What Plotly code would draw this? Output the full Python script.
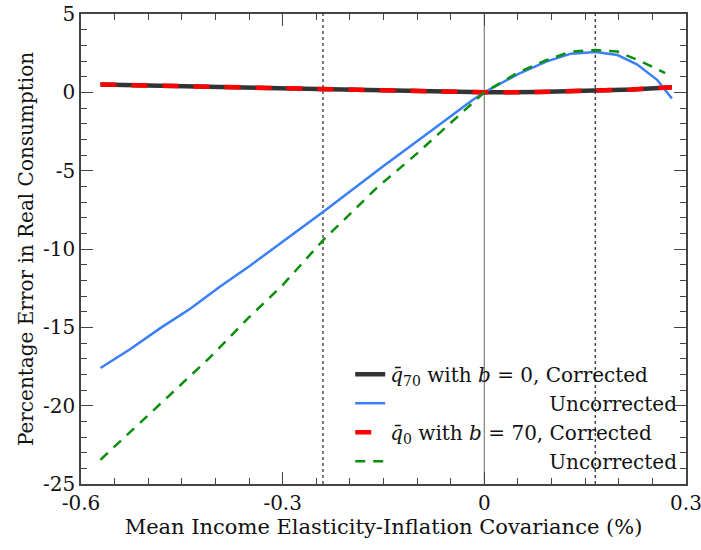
import plotly.graph_objects as go

# ---- data ----
x_corr = [-0.571, -0.48, -0.40, -0.30, -0.24, -0.15, -0.08, 0.0, 0.08, 0.165, 0.22, 0.279]
y_corr70 = [0.50, 0.42, 0.35, 0.25, 0.19, 0.10, 0.03, 0.0, 0.02, 0.10, 0.18, 0.32]
y_corr0 = [0.50, 0.42, 0.35, 0.25, 0.19, 0.10, 0.03, 0.0, 0.02, 0.10, 0.18, 0.33]

x_unc70 = [-0.571, -0.527, -0.482, -0.437, -0.393, -0.348, -0.239, -0.150, -0.085, -0.018, 0.0,
           0.05, 0.092, 0.129, 0.166, 0.198, 0.227, 0.257, 0.279]
y_unc70 = [-17.6, -16.4, -15.05, -13.8, -12.4, -11.05, -7.6, -4.7, -2.65, -0.5, 0.0,
           1.16, 1.96, 2.47, 2.58, 2.38, 1.79, 0.8, -0.4]

x_unc0 = [-0.571, -0.532, -0.470, -0.410, -0.351, -0.300, -0.239, -0.160, -0.100, -0.040, 0.0,
          0.05, 0.092, 0.129, 0.166, 0.198, 0.232, 0.269]
y_unc0 = [-23.45, -21.9, -19.4, -17.0, -14.4, -12.3, -9.4, -6.1, -3.9, -1.56, 0.0,
          1.26, 2.05, 2.6, 2.7, 2.6, 2.0, 1.23]

vlines_dotted = [-0.24, 0.165]

x_ticks = [-0.6, -0.3, 0, 0.3]
x_ticklabels = ["-0.6", "-0.3", "0", "0.3"]
y_ticks = [5, 0, -5, -10, -15, -20, -25]
y_ticklabels = ["5", "0", "-5", "-10", "-15", "-20", "-25"]

names = [
    "<i>q̄</i><sub>70</sub> with <i>b</i> = 0, Corrected",
    "\u00a0" * 25 + "Uncorrected",
    "<i>q̄</i><sub>0</sub> with <i>b</i> = 70, Corrected",
    "\u00a0" * 25 + "Uncorrected",
]

FONT = "DejaVu Serif"

fig = go.Figure()
fig.add_trace(go.Scatter(x=x_corr, y=y_corr70, mode="lines", name=names[0],
                         line=dict(color="#333333", width=4.5)))
fig.add_trace(go.Scatter(x=x_unc70, y=y_unc70, mode="lines", name=names[1],
                         line=dict(color="#3a7ff6", width=2.5)))
fig.add_trace(go.Scatter(x=x_corr, y=y_corr0, mode="lines", name=names[2],
                         line=dict(color="#ff0000", width=4.5, dash="16px,15px")))
fig.add_trace(go.Scatter(x=x_unc0, y=y_unc0, mode="lines", name=names[3],
                         line=dict(color="#0a8f0a", width=2.5, dash="10px,8px")))

shapes = [dict(type="line", xref="x", yref="paper", x0=0, x1=0, y0=0, y1=1,
               line=dict(color="#888888", width=1.3), layer="below")]
for xv in vlines_dotted:
    shapes.append(dict(type="line", xref="x", yref="paper", x0=xv, x1=xv, y0=0, y1=1,
                       line=dict(color="#222222", width=1.2, dash="dot"), layer="below"))

axis_common = dict(
    showgrid=False, zeroline=False, showline=True, linecolor="#444444", linewidth=1.5,
    mirror="ticks", ticks="inside", ticklen=12, tickwidth=1.3, tickcolor="#444444",
    tickfont=dict(family=FONT, size=20, color="#111111"), automargin=False,
    ticklabeloverflow="allow",
)

fig.update_layout(
    width=701, height=550,
    margin=dict(l=81, r=15, t=14, b=66),
    paper_bgcolor="white", plot_bgcolor="white",
    shapes=shapes,
    font=dict(family=FONT, size=20, color="#111111"),
    xaxis=dict(range=[-0.6, 0.30001], tickvals=x_ticks, ticktext=x_ticklabels,
               minor=dict(ticks="inside", dtick=0.05, ticklen=6, tickcolor="#444444", tickwidth=1.2),
               title=dict(text="Mean Income Elasticity-Inflation Covariance (%)",
                          font=dict(family=FONT, size=21), standoff=6),
               **axis_common),
    yaxis=dict(range=[-25, 5], tickvals=y_ticks, ticktext=y_ticklabels,
               minor=dict(ticks="inside", dtick=1, ticklen=6, tickcolor="#444444", tickwidth=1.2),
               title=dict(text="Percentage Error in Real Consumption",
                          font=dict(family=FONT, size=20), standoff=4),
               **axis_common),
    legend=dict(x=0.445, xanchor="left", y=0.007, yanchor="bottom",
                bgcolor="rgba(0,0,0,0)", borderwidth=0,
                font=dict(family=FONT, size=20, color="#111111"),
                itemwidth=30, tracegroupgap=0),
    showlegend=True,
)

fig.write_html("out.html")
